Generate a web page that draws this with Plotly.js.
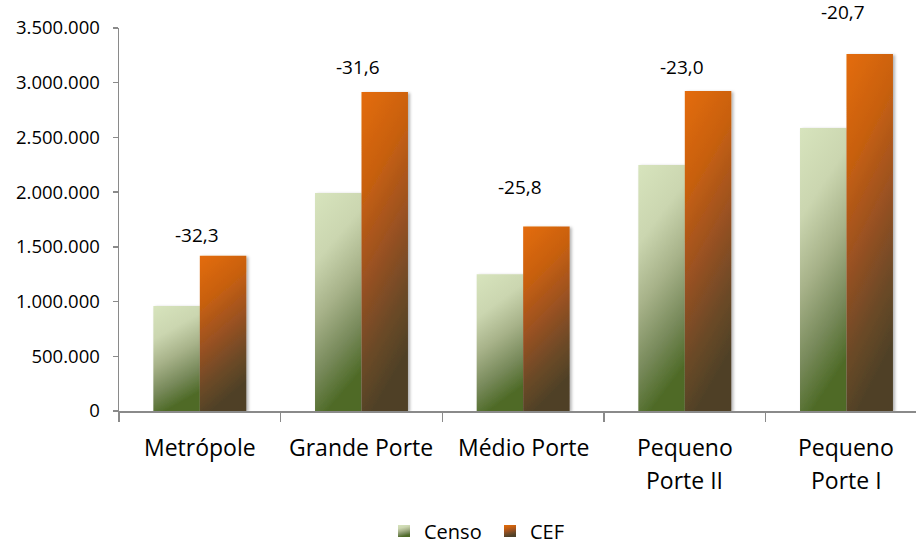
<!DOCTYPE html>
<html>
<head>
<meta charset="utf-8">
<script src="https://cdn.plot.ly/plotly-3.0.1.min.js"></script>
<style>
  html, body { margin: 0; padding: 0; background: #fff; }
  #chart { width: 916px; height: 545px; }
</style>
</head>
<body>
<div id="chart"></div>
<script>
// ---- data ----
const categories = ["Metrópole", "Grande Porte", "Médio Porte", "Pequeno Porte II", "Pequeno Porte I"];
const tickLine1 = ["Metrópole", "Grande Porte", "Médio Porte", "Pequeno", "Pequeno"];
const tickLine2 = ["", "", "", "Porte II", "Porte I"];
const censo = [960000, 1993000, 1250000, 2249000, 2587000];
const cef = [1418000, 2916000, 1685000, 2925000, 3263000];
const diffLabels = ["-32,3", "-31,6", "-25,8", "-23,0", "-20,7"];
const seriesNames = ["Censo", "CEF"];

// ---- styling (pixel offsets for labels, not data) ----
const labelLift = [21, 25, 40, 24, 42];
const FONT = "Open Sans, Noto Sans, sans-serif";
const AXIS = "#8a8a8a";

const traces = [
  { type: "bar", name: seriesNames[0], x: categories, y: censo,
    marker: { color: "#a9b98a", line: { width: 0 } }, hoverinfo: "skip" },
  { type: "bar", name: seriesNames[1], x: categories, y: cef,
    marker: { color: "#b35a1a", line: { width: 0 } }, hoverinfo: "skip" }
];

const annotations = [];
categories.forEach((c, i) => {
  annotations.push({ x: c, y: cef[i], xref: "x", yref: "y", text: diffLabels[i],
    showarrow: false, yanchor: "middle", yshift: labelLift[i], xshift: -3,
    font: { family: FONT, size: 19, color: "#000" } });
  annotations.push({ x: c, y: 0, xref: "x", yref: "paper", text: tickLine1[i],
    showarrow: false, yanchor: "middle", yshift: -36,
    font: { family: FONT, size: 23, color: "#000" } });
  if (tickLine2[i]) {
    annotations.push({ x: c, y: 0, xref: "x", yref: "paper", text: tickLine2[i],
      showarrow: false, yanchor: "middle", yshift: -69,
      font: { family: FONT, size: 23, color: "#000" } });
  }
});

const layout = {
  width: 916, height: 545,
  margin: { l: 119, r: 0, t: 28, b: 134, autoexpand: false },
  paper_bgcolor: "#fff", plot_bgcolor: "#fff",
  separators: ",.",
  barmode: "group", bargap: 0.425, bargroupgap: 0,
  showlegend: true,
  legend: { orientation: "h", x: 0.3325, xanchor: "left", y: -0.313, yanchor: "middle",
    entrywidth: 61, entrywidthmode: "pixels", bgcolor: "rgba(0,0,0,0)",
    font: { family: FONT, size: 20, color: "#000" }, traceorder: "normal" },
  font: { family: FONT, color: "#000" },
  xaxis: { type: "category", range: [-0.5, 4.43], showgrid: false, zeroline: false,
    showline: true, linecolor: AXIS, linewidth: 1.5,
    ticks: "outside", tickson: "boundaries", ticklen: 9, tickcolor: AXIS, tickwidth: 1.5,
    showticklabels: false },
  yaxis: { range: [0, 3500000], dtick: 500000, tickformat: ",d", showgrid: false, zeroline: false,
    showline: true, linecolor: AXIS, linewidth: 1.5,
    ticks: "outside", ticklen: 5, tickcolor: AXIS, tickwidth: 1.5, ticklabelstandoff: 9,
    tickfont: { family: FONT, size: 18.5, color: "#000" } },
  annotations: annotations
};

Plotly.newPlot("chart", traces, layout, { staticPlot: true, displayModeBar: false }).then(gd => {
  const svg = gd.querySelector("svg.main-svg");
  const NS = "http://www.w3.org/2000/svg";
  const defs = document.createElementNS(NS, "defs");
  function grad(id, stops) {
    const g = document.createElementNS(NS, "linearGradient");
    g.setAttribute("id", id);
    g.setAttribute("x1", "0"); g.setAttribute("y1", "0");
    g.setAttribute("x2", "0.25"); g.setAttribute("y2", "1");
    stops.forEach(([o, c]) => {
      const s = document.createElementNS(NS, "stop");
      s.setAttribute("offset", o); s.setAttribute("stop-color", c);
      g.appendChild(s);
    });
    defs.appendChild(g);
  }
  grad("gCenso", [[0, "#d7e4bd"], [0.3, "#cbd6b0"], [0.55, "#a7b289"], [0.8, "#77895a"], [1, "#4f6b28"]]);
  grad("gCef", [[0, "#e46c0a"], [0.3, "#c8600f"], [0.55, "#9e5220"], [0.8, "#6e4a28"], [1, "#4f4128"]]);
  const f = document.createElementNS(NS, "filter");
  f.setAttribute("id", "shadow");
  f.setAttribute("x", "-20%"); f.setAttribute("y", "-5%");
  f.setAttribute("width", "150%"); f.setAttribute("height", "115%");
  const ds = document.createElementNS(NS, "feDropShadow");
  ds.setAttribute("dx", "2"); ds.setAttribute("dy", "1");
  ds.setAttribute("stdDeviation", "1.5"); ds.setAttribute("flood-opacity", "0.3");
  f.appendChild(ds); defs.appendChild(f);
  svg.insertBefore(defs, svg.firstChild);
  const ids = ["gCenso", "gCef"];
  gd.querySelectorAll(".barlayer .trace.bars").forEach((t, i) => {
    t.querySelectorAll(".point path").forEach(p => {
      p.style.fill = "url(#" + ids[i] + ")";
      p.style.filter = "url(#shadow)";
    });
  });
  gd.querySelectorAll(".legend .traces").forEach((t, i) => {
    t.querySelectorAll(".legendpoints path").forEach(p => {
      p.style.fill = "url(#" + ids[i] + ")";
    });
  });
});
</script>
</body>
</html>
